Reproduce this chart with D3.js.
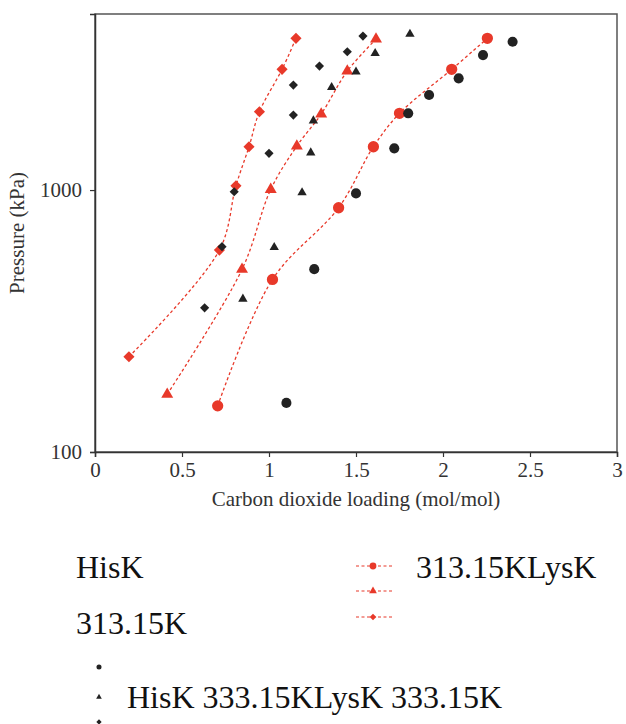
<!DOCTYPE html>
<html>
<head>
<meta charset="utf-8">
<script src="https://cdn.jsdelivr.net/npm/d3@7"></script>
<style>
  html, body { margin: 0; padding: 0; background: #fff; }
  svg { display: block; }
  text { font-family: "Liberation Serif", "Times New Roman", serif; fill: #222; }
</style>
</head>
<body>
<svg id="chart" width="626" height="724"></svg>
<script>
// ---- data ----
const xTicks = [0, 0.5, 1, 1.5, 2, 2.5, 3];
const yTicks = [100, 1000];

// HisK (black markers)
const hisCircleX = [1.10, 1.26, 1.50, 1.72, 1.80, 1.92, 2.09, 2.23, 2.40];
const hisCircleP = [154, 499, 971, 1443, 1963, 2305, 2669, 3275, 3681];
const hisTriangleX = [0.85, 1.03, 1.19, 1.24, 1.255, 1.36, 1.50, 1.61, 1.81];
const hisTriangleP = [384, 604, 978, 1388, 1839, 2466, 2828, 3325, 3939];
const hisDiamondX = [0.63, 0.73, 0.80, 1.00, 1.14, 1.14, 1.29, 1.45, 1.54];
const hisDiamondP = [355, 608, 985, 1381, 1933, 2517, 2974, 3373, 3871];

// LysK (red markers with dashed lines)
const lysCircleX = [0.705, 1.02, 1.40, 1.60, 1.75, 2.05, 2.255];
const lysCircleP = [150, 456, 856, 1463, 1963, 2889, 3794];
const lysTriangleX = [0.415, 0.845, 1.01, 1.16, 1.30, 1.45, 1.615];
const lysTriangleP = [166, 498, 1005, 1472, 1950, 2845, 3770];
const lysDiamondX = [0.195, 0.715, 0.81, 0.885, 0.945, 1.075, 1.155];
const lysDiamondP = [231, 590, 1038, 1463, 1991, 2889, 3794];

const xTitle = "Carbon dioxide loading (mol/mol)";
const yTitle = "Pressure (kPa)";
const legendTexts = ["HisK", "313.15K", "313.15KLysK", "HisK 333.15KLysK 333.15K"];

// ---- drawing ----
const RED = "#e8392a";
const BLACK = "#222222";
const svg = d3.select("#chart");
const x = d3.scaleLinear().domain([0, 3]).range([95, 617]);
const y = d3.scaleLog().domain([100, 4700]).range([452, 14]);

const zip = (xs, ps) => xs.map((v, i) => ({x: v, p: ps[i]}));

// frame
svg.append("rect")
  .attr("x", x(0)).attr("y", y(4700))
  .attr("width", x(3) - x(0)).attr("height", y(100) - y(4700))
  .attr("fill", "none").attr("stroke", "#555").attr("stroke-width", 1.5);

// axes
const gx = svg.append("g").attr("transform", `translate(0,${y(100)})`)
  .call(d3.axisBottom(x).tickValues(xTicks).tickSize(5).tickPadding(5).tickFormat(d => String(d)));
const gy = svg.append("g").attr("transform", `translate(${x(0)},0)`)
  .call(d3.axisLeft(y).tickValues(yTicks).tickSize(5).tickPadding(8).tickFormat(d => String(d)));
[gx, gy].forEach(g => {
  g.attr("font-family", '"Liberation Serif", "Times New Roman", serif');
  g.select(".domain").attr("stroke", "#333").attr("stroke-width", 1.5);
  g.selectAll(".tick line").attr("stroke", "#333").attr("stroke-width", 1.2);
  g.selectAll(".tick text").attr("font-size", 21).style("fill", "#333");
});

// titles
svg.append("text").attr("x", (x(0) + x(3)) / 2).attr("y", 506)
  .attr("text-anchor", "middle").attr("font-size", 21).style("fill", "#333").text(xTitle);
svg.append("text").attr("transform", `translate(24,${(y(100) + y(4700)) / 2}) rotate(-90)`)
  .attr("text-anchor", "middle").attr("font-size", 21).style("fill", "#333").text(yTitle);

// symbol helpers
function symPath(type, size) {
  if (type === "circle") return d3.symbol(d3.symbolCircle, size)();
  if (type === "triangle") return d3.symbol(d3.symbolTriangle, size)();
  return d3.symbol(d3.symbolSquare, size)();
}
function drawMarks(data, type, size, color) {
  svg.append("g").selectAll("path").data(data).join("path")
    .attr("d", symPath(type, size))
    .attr("transform", d => `translate(${x(d.x)},${y(d.p)})` + (type === "diamond" ? " rotate(45)" : ""))
    .attr("fill", color);
}

// red dashed curves
const line = d3.line().x(d => x(d.x)).y(d => y(d.p)).curve(d3.curveCatmullRom.alpha(0.5));
const lysSets = [
  [zip(lysCircleX, lysCircleP), "circle", 100],
  [zip(lysTriangleX, lysTriangleP), "triangle", 62],
  [zip(lysDiamondX, lysDiamondP), "diamond", 62]
];
lysSets.forEach(([data]) => {
  svg.append("path").datum(data).attr("d", line)
    .attr("fill", "none").attr("stroke", RED).attr("stroke-width", 1.3)
    .attr("stroke-dasharray", "3,2.5");
});
lysSets.forEach(([data, type, size]) => drawMarks(data, type, size, RED));

// black markers
drawMarks(zip(hisCircleX, hisCircleP), "circle", 80, BLACK);
drawMarks(zip(hisTriangleX, hisTriangleP), "triangle", 38, BLACK);
drawMarks(zip(hisDiamondX, hisDiamondP), "diamond", 42, BLACK);

// ---- legend (as rendered in the reference) ----
const lg = svg.append("g");
lg.append("text").attr("x", 76).attr("y", 578).attr("font-size", 32).style("fill", "#111").text(legendTexts[0]);
lg.append("text").attr("x", 76).attr("y", 634).attr("font-size", 32).style("fill", "#111").text(legendTexts[1]);
lg.append("text").attr("x", 416).attr("y", 578).attr("font-size", 32).style("fill", "#111").text(legendTexts[2]);
lg.append("text").attr("x", 127).attr("y", 708).attr("font-size", 32).style("fill", "#111").text(legendTexts[3]);

const redLegend = [["circle", 36, 566], ["triangle", 26, 591], ["diamond", 22, 617]];
redLegend.forEach(([type, size, yy]) => {
  lg.append("line").attr("x1", 356).attr("x2", 392).attr("y1", yy).attr("y2", yy)
    .attr("stroke", RED).attr("stroke-width", 1.2).attr("stroke-dasharray", "3,2.5");
  lg.append("path").attr("d", symPath(type, size))
    .attr("transform", `translate(373,${yy})` + (type === "diamond" ? " rotate(45)" : ""))
    .attr("fill", RED);
});
const blackLegend = [["circle", 20, 667], ["triangle", 14, 697], ["diamond", 14, 722]];
blackLegend.forEach(([type, size, yy]) => {
  lg.append("path").attr("d", symPath(type, size))
    .attr("transform", `translate(99,${yy})` + (type === "diamond" ? " rotate(45)" : ""))
    .attr("fill", BLACK);
});
</script>
</body>
</html>
